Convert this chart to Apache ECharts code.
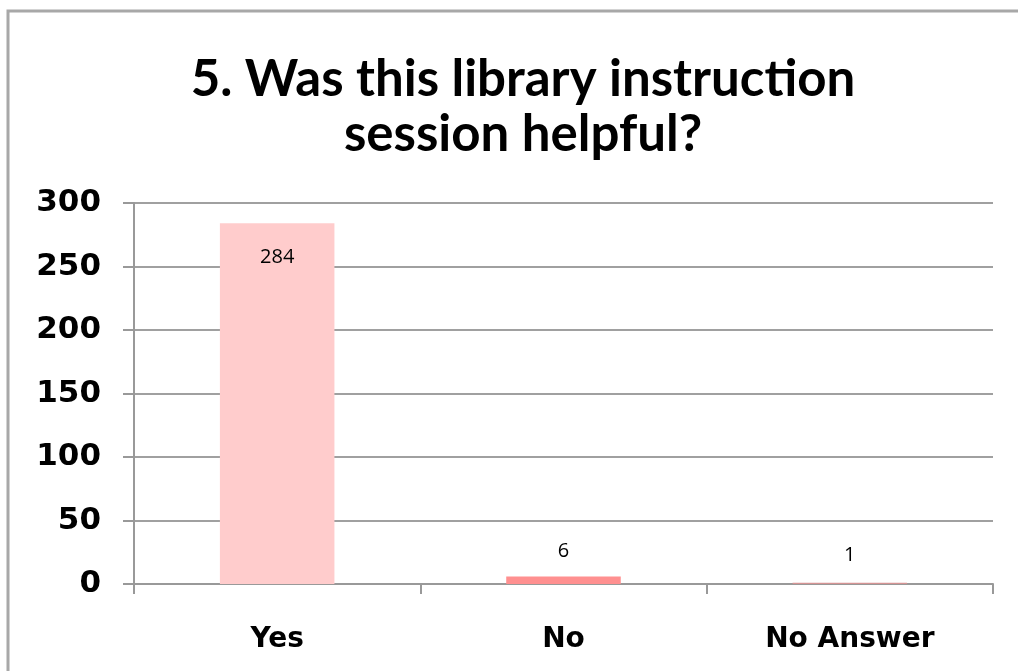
<!DOCTYPE html>
<html><head><meta charset="utf-8">
<script src="https://cdn.jsdelivr.net/npm/echarts@6/dist/echarts.min.js"></script>
<style>html,body{margin:0;padding:0;background:#fff}#c{width:1018px;height:671px}</style>
</head><body><div id="c"></div>
<script>
const categories = ['Yes', 'No', 'No Answer'];
const values = [284, 6, 1];
const barColors = ['#ffcccc', '#ff9090', '#d59494'];
const yTicks = [0, 50, 100, 150, 200, 250, 300];

const chart = echarts.init(document.getElementById('c'));
const labelPos = [
  {position: 'insideTop', distance: 24},
  {position: 'top', distance: 15},
  {position: 'top', distance: 17}
];
chart.setOption({
  animation: false,
  backgroundColor: '#fff',
  graphic: [{
    type: 'rect', shape: {x: 8, y: 11, width: 1030, height: 700},
    style: {fill: 'none', stroke: '#a8a8a8', lineWidth: 3}, z: 100
  }],
  title: {
    text: '5. Was this library instruction\nsession helpful?',
    left: 518, textAlign: 'center', top: 47,
    textStyle: {fontFamily: 'Lato', fontWeight: 'bold', fontSize: 51, lineHeight: 55, color: '#000'}
  },
  grid: {left: 134, right: 25, top: 203, bottom: 87, containLabel: false},
  xAxis: {
    type: 'category', data: categories,
    axisLine: {lineStyle: {color: '#999', width: 2}},
    axisTick: {show: true, length: 10, lineStyle: {color: '#999', width: 2}},
    axisLabel: {fontFamily: 'DejaVu Sans', fontWeight: 'bold', fontSize: 28, color: '#000', margin: 42}
  },
  yAxis: {
    type: 'value', min: yTicks[0], max: yTicks[yTicks.length - 1], interval: 50,
    axisLine: {show: true, lineStyle: {color: '#999', width: 2}},
    axisTick: {show: true, length: 11, lineStyle: {color: '#999', width: 2}},
    splitLine: {lineStyle: {color: '#a0a0a0', width: 2}},
    axisLabel: {fontFamily: 'DejaVu Sans', fontWeight: 'bold', fontSize: 31, color: '#000', margin: 33}
  },
  series: [{
    type: 'bar', barWidth: '40%',
    data: values.map((v, i) => ({
      value: v,
      itemStyle: {color: barColors[i]},
      label: {show: true, position: labelPos[i].position, distance: labelPos[i].distance,
        fontFamily: 'Open Sans', fontSize: 20, color: '#000'}
    }))
  }]
});
</script></body></html>
